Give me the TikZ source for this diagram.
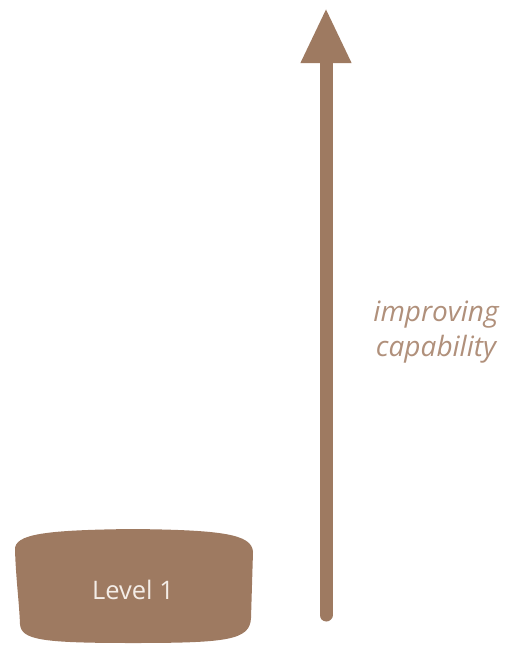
\documentclass[tikz,border=0pt]{standalone}
\usepackage{fontspec}
\setmainfont{Open Sans}
\usepackage{xcolor}
\usetikzlibrary{arrows.meta}

\definecolor{boxbrown}{HTML}{9E7A61}
\definecolor{notebrown}{HTML}{B0907B}
\definecolor{boxtext}{HTML}{F4EDE7}

\begin{document}
\begin{tikzpicture}[x=1pt, y=-1pt]
    \useasboundingbox (0,0) rectangle (506,645);
    % Level 1 blob
    \fill[boxbrown] (15,550) .. controls (14,534) and (45,530) .. (133,529)
        .. controls (222,530) and (252,534) .. (253,552) -- (251,618)
        .. controls (250,640) and (228,643) .. (133,643)
        .. controls (42,643) and (21,640) .. (20,624)
        .. controls (19,600) and (16,580) .. cycle;
    \node[font=\fontsize{25.5}{30}\selectfont, text=boxtext] (level1) at (133,590) {Level 1};
    % capability arrow
    \coordinate (base) at (326,615);
    \coordinate (tip) at (326,8);
    \draw[boxbrown, line width=13pt, line cap=round,
        -{Triangle[width=47pt, length=55pt]}] (base) -- (tip);
    \node[font=\fontsize{28}{35}\selectfont\itshape, text=notebrown, align=center] (note) at (436,332) {improving\\capability};
\end{tikzpicture}
\end{document}
